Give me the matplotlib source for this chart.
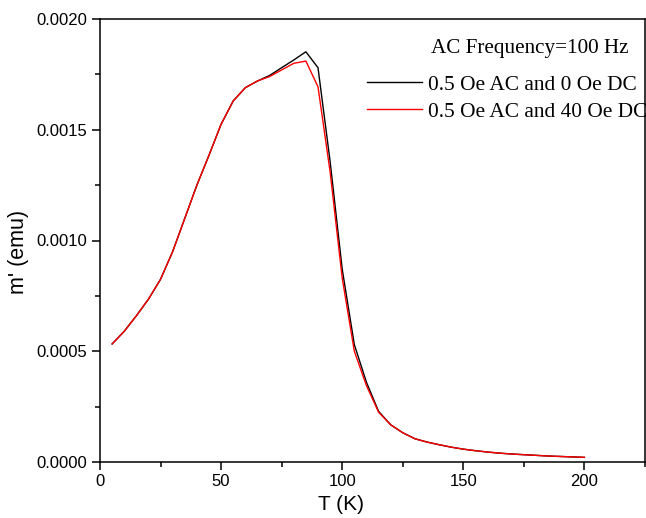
import matplotlib
matplotlib.use('Agg')
import matplotlib.pyplot as plt
from matplotlib.ticker import MultipleLocator, FormatStrFormatter

# temperature (K), 5 K steps
temp = [5, 10, 15, 20, 25, 30, 35, 40, 45, 50, 55, 60, 65, 70, 75, 80, 85, 90, 95, 100,
        105, 110, 115, 120, 125, 130, 135, 140, 145, 150, 155, 160, 165, 170, 175, 180,
        185, 190, 195, 200]

# m' (emu) for 0 Oe DC
m_0dc = [0.000533, 0.000590, 0.000660, 0.000735, 0.000825, 0.000950, 0.001100, 0.001250,
         0.001385, 0.001525, 0.001630, 0.001690, 0.001720, 0.001745, 0.001780, 0.001815,
         0.001852, 0.001780, 0.001357, 0.000870, 0.000530, 0.000360, 0.000229, 0.000168,
         0.000132, 0.000105, 0.000090, 0.000078, 0.000067, 0.000058, 0.000051, 0.000045,
         0.000040, 0.000036, 0.000033, 0.000030, 0.000027, 0.000025, 0.000023, 0.000021]

# m' (emu) for 40 Oe DC
m_40dc = [0.000533, 0.000590, 0.000660, 0.000735, 0.000825, 0.000950, 0.001100, 0.001250,
          0.001385, 0.001525, 0.001630, 0.001690, 0.001720, 0.001740, 0.001770, 0.001800,
          0.001810, 0.001694, 0.001310, 0.000830, 0.000500, 0.000345, 0.000225, 0.000168,
          0.000132, 0.000105, 0.000090, 0.000078, 0.000067, 0.000058, 0.000051, 0.000045,
          0.000040, 0.000036, 0.000033, 0.000030, 0.000027, 0.000025, 0.000023, 0.000021]

labels = ['0.5 Oe AC and 0 Oe DC', '0.5 Oe AC and 40 Oe DC']
note = 'AC Frequency=100 Hz'

plt.rcParams['font.family'] = ['Liberation Sans', 'DejaVu Sans']

fig = plt.figure(figsize=(6.46, 5.18), dpi=100)
ax = fig.add_axes([100/646, 1-462/518, 545/646, 443/518])

ax.plot(temp, m_0dc, color='black', lw=1.0, label=labels[0])
ax.plot(temp, m_40dc, color='red', lw=1.0, label=labels[1])

ax.set_xlim(0, 225)
ax.set_ylim(0, 0.002)
ax.xaxis.set_major_locator(MultipleLocator(50))
ax.xaxis.set_minor_locator(MultipleLocator(25))
ax.yaxis.set_major_locator(MultipleLocator(0.0005))
ax.yaxis.set_minor_locator(MultipleLocator(0.00025))
ax.yaxis.set_major_formatter(FormatStrFormatter('%.4f'))

ax.tick_params(which='major', direction='out', length=6, width=1.1, labelsize=12, pad=3)
ax.tick_params(which='minor', direction='out', length=3.5, width=1.1)
for s in ax.spines.values():
    s.set_linewidth(1.1)

ax.set_xlabel('T (K)', fontsize=15, labelpad=4)
ax.xaxis.set_label_coords(0.442, -0.075)
ax.set_ylabel("m' (emu)", fontsize=15.5, labelpad=4)
ax.yaxis.set_label_coords(-0.13, 0.474)

ax.text(0.789, 0.934, note, transform=ax.transAxes, ha='center', va='center',
        fontsize=15.2, family='Liberation Serif')
ax.legend(loc='upper left', bbox_to_anchor=(0.49, 0.874), frameon=False,
          prop={'family': 'Liberation Serif', 'size': 15.4}, handlelength=2.55,
          handletextpad=0.3, labelspacing=0.32, borderpad=0, borderaxespad=0)

fig.savefig('out.png', dpi=100)
